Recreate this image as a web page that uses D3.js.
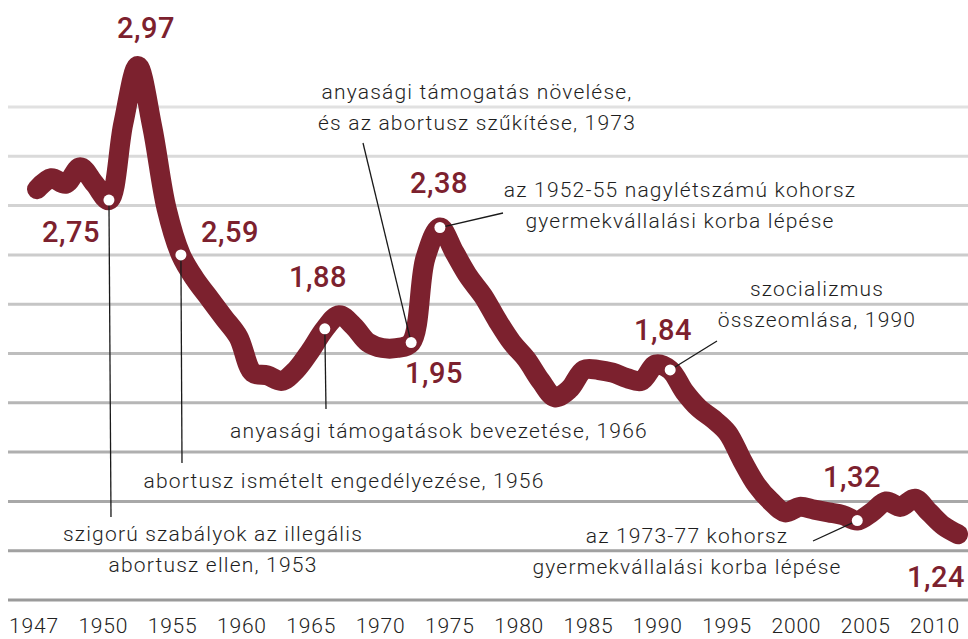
<!DOCTYPE html>
<html>
<head>
<meta charset="utf-8">
<script src="https://cdn.jsdelivr.net/npm/d3@7/dist/d3.min.js"></script>
<style>
  body { margin: 0; background: #fff; }
  svg { display: block; }
  text { font-family: Roboto, "Open Sans", sans-serif; }
</style>
</head>
<body>
<div id="chart"></div>
<script>
// total fertility rate, Hungary
var years = [1947, 1948, 1949, 1950, 1951, 1952, 1953, 1954, 1955, 1956,
             1957, 1958, 1959, 1960, 1961, 1962, 1963, 1964, 1965, 1966,
             1967, 1968, 1969, 1970, 1971, 1972, 1973, 1974, 1975, 1976,
             1977, 1978, 1979, 1980, 1981, 1982, 1983, 1984, 1985, 1986,
             1987, 1988, 1989, 1990, 1991, 1992, 1993, 1994, 1995, 1996,
             1997, 1998, 1999, 2000, 2001, 2002, 2003, 2004, 2005, 2006,
             2007, 2008, 2009, 2010, 2011];
var tfr = [2.50, 2.54, 2.52, 2.58, 2.52, 2.46, 2.74, 2.95, 2.73, 2.43,
           2.26, 2.17, 2.10, 2.03, 1.96, 1.83, 1.82, 1.80, 1.84, 1.91,
           1.99, 2.04, 2.00, 1.94, 1.92, 1.92, 1.94, 2.25, 2.36, 2.27,
           2.18, 2.11, 2.02, 1.94, 1.88, 1.80, 1.74, 1.77, 1.84, 1.84,
           1.83, 1.81, 1.80, 1.86, 1.84, 1.76, 1.70, 1.66, 1.61, 1.51,
           1.42, 1.36, 1.32, 1.34, 1.33, 1.32, 1.31, 1.29, 1.32, 1.36,
           1.34, 1.37, 1.32, 1.27, 1.24];

var tickLabels = ["1947", "1950", "1955", "1960", "1965", "1970", "1975",
                  "1980", "1985", "1990", "1995", "2000", "2005", "2010"];
var gridValues = [1.00, 1.18, 1.36, 1.54, 1.72, 1.90, 2.08, 2.26, 2.44, 2.62, 2.80];

var markerYears = [1952, 1957, 1967, 1973, 1975, 1991, 2004];
var valueLabels = ["2,97", "2,75", "2,59", "1,88", "1,95", "2,38", "1,84", "1,32", "1,24"];
var notes = [
    ["szigorú szabályok az illegális", "abortusz ellen, 1953"],
    ["abortusz ismételt engedélyezése, 1956"],
    ["anyasági támogatások bevezetése, 1966"],
    ["anyasági támogatás növelése,", "és az abortusz szűkítése, 1973"],
    ["az 1952-55 nagylétszámú kohorsz", "gyermekvállalási korba lépése"],
    ["szocializmus", "összeomlása, 1990"],
    ["az 1973-77 kohorsz", "gyermekvállalási korba lépése"]
];

// layout of the labels (pixels)
var valueLabelPos = [[146, 38], [71, 242], [230, 242], [318, 287], [434, 383],
                     [439, 193], [663, 340], [852, 487], [936, 587]];
var notePos = [[213, 541], [344, 488], [439, 438], [477, 99], [680, 197], [817, 296], [687, 543]];
var leaderEnds = [[111, 517], [182, 463], [326, 409], [363, 143], [503, 213], [717, 341], [813, 541]];

var width = 968, height = 639;
var wine = "#7c212e";

var data = years.map(function (yr, i) { return { year: yr, value: tfr[i] }; });

var x = d3.scaleLinear().domain([1947, 2011]).range([37, 958]);
var y = d3.scaleLinear().domain([1.0, 2.8]).range([600, 107]);
var xLabel = d3.scalePoint().domain(tickLabels).range([34, 935]);
var gridColor = d3.scaleLinear().domain([2.8, 1.0]).range(["#e1e1e1", "#9a9a9a"]);

var svg = d3.select("#chart")
    .append("svg")
    .attr("width", width)
    .attr("height", height);

svg.selectAll(".grid")
    .data(gridValues)
    .enter()
    .append("line")
    .attr("class", "grid")
    .attr("x1", 8)
    .attr("x2", width)
    .attr("y1", function (d) { return y(d); })
    .attr("y2", function (d) { return y(d); })
    .attr("stroke", function (d) { return gridColor(d); })
    .attr("stroke-width", 3);

svg.selectAll(".tick-label")
    .data(tickLabels)
    .enter()
    .append("text")
    .attr("class", "tick-label")
    .attr("x", function (d) { return xLabel(d); })
    .attr("y", 633)
    .attr("text-anchor", "middle")
    .attr("font-size", 21)
    .attr("font-weight", 300)
    .attr("letter-spacing", 0.8)
    .attr("fill", "#222")
    .text(function (d) { return d; });

var line = d3.line()
    .x(function (d) { return x(d.year); })
    .y(function (d) { return y(d.value); })
    .curve(d3.curveCatmullRom.alpha(0.5));

svg.append("path")
    .datum(data)
    .attr("d", line)
    .attr("fill", "none")
    .attr("stroke", wine)
    .attr("stroke-width", 20)
    .attr("stroke-linecap", "round")
    .attr("stroke-linejoin", "round");

var markers = markerYears.map(function (yr) {
    return data.filter(function (d) { return d.year === yr; })[0];
});

svg.selectAll(".leader")
    .data(markers)
    .enter()
    .append("line")
    .attr("class", "leader")
    .attr("x1", function (d) { return x(d.year); })
    .attr("y1", function (d) { return y(d.value); })
    .attr("x2", function (d, i) { return leaderEnds[i][0]; })
    .attr("y2", function (d, i) { return leaderEnds[i][1]; })
    .attr("stroke", "#1a1a1a")
    .attr("stroke-width", 1.3);

svg.selectAll(".marker")
    .data(markers)
    .enter()
    .append("circle")
    .attr("class", "marker")
    .attr("cx", function (d) { return x(d.year); })
    .attr("cy", function (d) { return y(d.value); })
    .attr("r", 5.5)
    .attr("fill", "#fff");

svg.selectAll(".value-label")
    .data(valueLabels)
    .enter()
    .append("text")
    .attr("class", "value-label")
    .attr("x", function (d, i) { return valueLabelPos[i][0]; })
    .attr("y", function (d, i) { return valueLabelPos[i][1]; })
    .attr("text-anchor", "middle")
    .attr("font-size", 29)
    .attr("font-weight", 500)
    .attr("letter-spacing", 0.5)
    .attr("fill", wine)
    .text(function (d) { return d; });

var noteG = svg.selectAll(".note")
    .data(notes)
    .enter()
    .append("text")
    .attr("class", "note")
    .attr("text-anchor", "middle")
    .attr("font-size", 21)
    .attr("font-weight", 300)
    .attr("letter-spacing", 1.2)
    .attr("fill", "#1e1e1e");

noteG.each(function (lines, i) {
    d3.select(this).selectAll("tspan")
        .data(lines)
        .enter()
        .append("tspan")
        .attr("x", notePos[i][0])
        .attr("y", function (d, j) { return notePos[i][1] + j * 31; })
        .text(function (d) { return d; });
});
</script>
</body>
</html>
